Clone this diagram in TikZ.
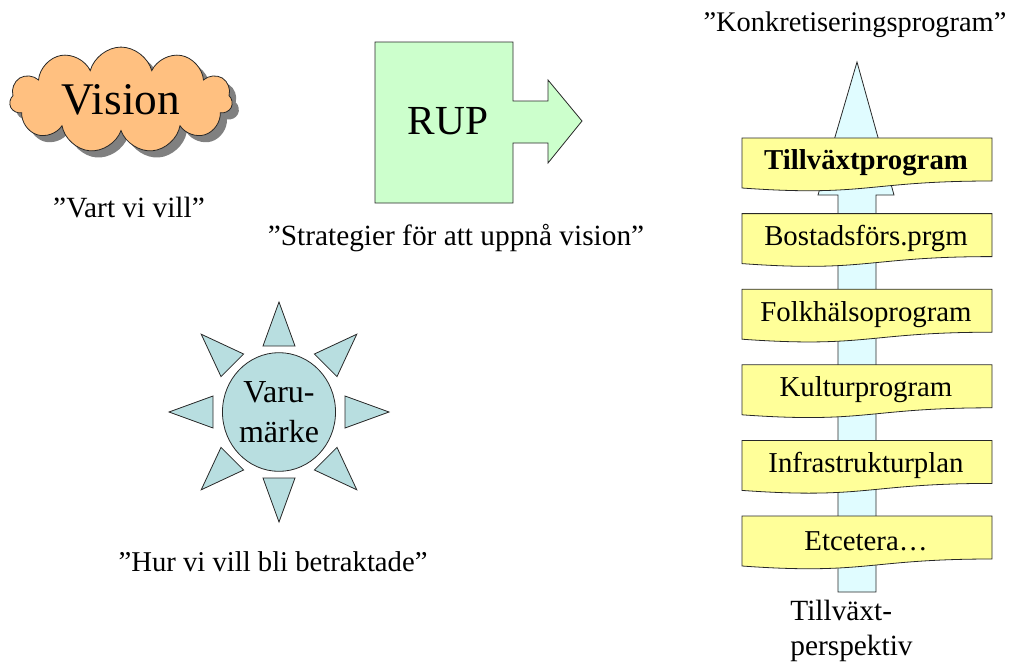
\documentclass[tikz,border=0pt]{standalone}
\usepackage{fontspec}
\setmainfont{Liberation Serif}
\usetikzlibrary{shapes.symbols,shapes.geometric,shadows}
\definecolor{cloudfill}{RGB}{255,192,128}
\definecolor{rupfill}{RGB}{204,255,204}
\definecolor{sunfill}{RGB}{184,222,224}
\definecolor{arrowfill}{RGB}{224,252,255}
\definecolor{docfill}{RGB}{255,255,153}
\definecolor{edge}{RGB}{40,40,40}
\begin{document}
\begin{tikzpicture}[x=0.75pt,y=-0.75pt, line width=0.6pt,
  lbl/.style={font=\fontsize{22}{26}\selectfont, inner sep=0pt},
  boxtxt/.style={font=\fontsize{21.6}{26}\selectfont, inner sep=0pt},
  docbox/.style={draw=edge, fill=docfill},
  ray/.style={draw=edge, fill=sunfill}]
\useasboundingbox (0,0) rectangle (1010,664);

% Vision cloud
\node[cloud, cloud puffs=11, aspect=2.3, draw=edge, fill=cloudfill, inner sep=0pt,
      minimum width=167pt, minimum height=70pt,
      drop shadow={shadow xshift=5pt, shadow yshift=-5pt, fill=black!50, opacity=1},
      font=\fontsize{34}{40}\selectfont] (vision) at (121,100) {Vision};
\node[lbl] (vart) at (129,208) {”Vart vi vill”};

% RUP
\draw[draw=edge, fill=rupfill] (375,42) -- (513,42) -- (513,101) -- (548,101) -- (548,80)
  -- (582,121) -- (548,163) -- (548,143) -- (513,143) -- (513,203) -- (375,203) -- cycle;
\node[font=\fontsize{31}{36}\selectfont, inner sep=0pt] (rup) at (448,121) {RUP};
\node[lbl] (strat) at (456,238) {”Strategier för att uppnå vision”};

% Sun
\foreach \a in {0,45,...,315}
  \draw[ray, shift={(279,412)}, rotate=\a] (66,-16) -- (110,0) -- (66,16) -- cycle;
\node[ellipse, draw=edge, fill=sunfill, minimum width=81pt, minimum height=89pt, inner sep=0pt,
      align=center, font=\fontsize{24}{30}\selectfont] (sun) at (279,412) {Varu-\\märke};
\node[lbl, font=\fontsize{21.5}{26}\selectfont] (hur) at (273,562) {”Hur vi vill bli betraktade”};

% Growth arrow
\draw[draw=edge, fill=arrowfill] (857,62) -- (894,195) -- (876,195) -- (876,592) -- (838,592)
  -- (838,195) -- (818,195) -- cycle;
\node[lbl, font=\fontsize{21.3}{26}\selectfont] (konk) at (855,25) {”Konkretiseringsprogram”};

\foreach \t/\txt [count=\i] in {138/{\bfseries Tillväxtprogram},213.6/Bostadsförs.prgm,289.2/Folkhälsoprogram,364.8/Kulturprogram,440.4/Infrastrukturplan,516/Etcetera…}{
  \draw[docbox] (742,\t) -- (992,\t) -- (992,\t+43) .. controls (867,\t+43) and (867,\t+59) .. (742,\t+50) -- cycle;
  \node[boxtxt] (b\i) at (866,\t+25) {\txt};
}

\node[lbl, align=left, anchor=north west] (tp) at (790,600) {Tillväxt-\\perspektiv};
\end{tikzpicture}
\end{document}
